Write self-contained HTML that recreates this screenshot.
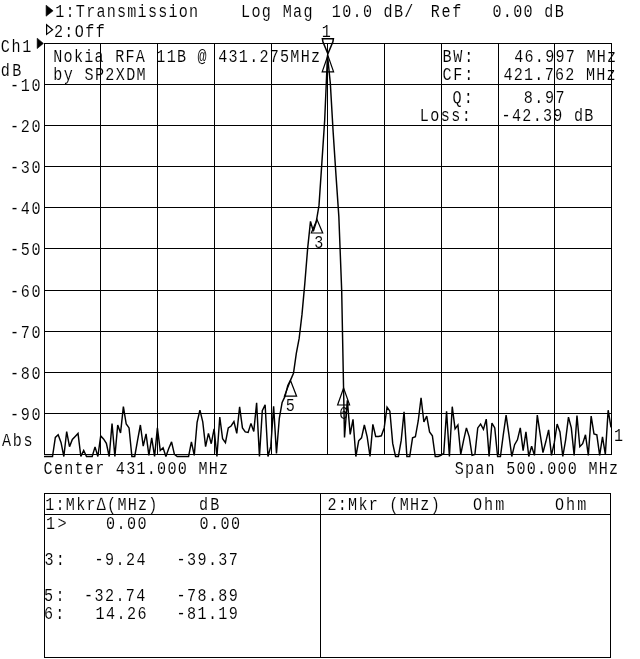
<!DOCTYPE html>
<html><head><meta charset="utf-8"><title>HP 8753 plot</title>
<style>
html,body{margin:0;padding:0;background:#fff;width:640px;height:659px;overflow:hidden}
svg{display:block}
text{font-family:"Liberation Mono","DejaVu Sans Mono",monospace;font-size:18px;fill:#000}
</style></head><body>

<svg width="640" height="659" viewBox="0 0 640 659">
<rect width="640" height="659" fill="#fff"/>
<text transform="translate(55.30 17.00) scale(0.840 1)" textLength="170.00" lengthAdjust="spacing" xml:space="preserve" stroke="#fff" stroke-width="0.10">1:Transmission</text>
<text transform="translate(241.10 17.00) scale(0.840 1)" textLength="85.00" lengthAdjust="spacing" xml:space="preserve" stroke="#fff" stroke-width="0.10">Log Mag</text>
<text transform="translate(331.80 17.00) scale(0.840 1)" textLength="97.14" lengthAdjust="spacing" xml:space="preserve" stroke="#fff" stroke-width="0.10">10.0 dB/</text>
<text transform="translate(430.70 17.00) scale(0.840 1)" textLength="36.43" lengthAdjust="spacing" xml:space="preserve" stroke="#fff" stroke-width="0.10">Ref</text>
<text transform="translate(492.40 17.00) scale(0.840 1)" textLength="85.00" lengthAdjust="spacing" xml:space="preserve" stroke="#fff" stroke-width="0.10">0.00 dB</text>
<text transform="translate(53.90 37.00) scale(0.840 1)" textLength="60.71" lengthAdjust="spacing" xml:space="preserve" stroke="#fff" stroke-width="0.10">2:Off</text>
<text transform="translate(0.80 52.00) scale(0.840 1)" textLength="36.43" lengthAdjust="spacing" xml:space="preserve" stroke="#fff" stroke-width="0.10">Ch1</text>
<text transform="translate(0.80 76.00) scale(0.840 1)" textLength="24.29" lengthAdjust="spacing" xml:space="preserve" stroke="#fff" stroke-width="0.10">dB</text>
<text transform="translate(10.00 91.00) scale(0.840 1)" textLength="36.43" lengthAdjust="spacing" xml:space="preserve" stroke="#fff" stroke-width="0.10">-10</text>
<text transform="translate(10.00 132.00) scale(0.840 1)" textLength="36.43" lengthAdjust="spacing" xml:space="preserve" stroke="#fff" stroke-width="0.10">-20</text>
<text transform="translate(10.00 173.00) scale(0.840 1)" textLength="36.43" lengthAdjust="spacing" xml:space="preserve" stroke="#fff" stroke-width="0.10">-30</text>
<text transform="translate(10.00 214.00) scale(0.840 1)" textLength="36.43" lengthAdjust="spacing" xml:space="preserve" stroke="#fff" stroke-width="0.10">-40</text>
<text transform="translate(10.00 255.00) scale(0.840 1)" textLength="36.43" lengthAdjust="spacing" xml:space="preserve" stroke="#fff" stroke-width="0.10">-50</text>
<text transform="translate(10.00 297.00) scale(0.840 1)" textLength="36.43" lengthAdjust="spacing" xml:space="preserve" stroke="#fff" stroke-width="0.10">-60</text>
<text transform="translate(10.00 338.00) scale(0.840 1)" textLength="36.43" lengthAdjust="spacing" xml:space="preserve" stroke="#fff" stroke-width="0.10">-70</text>
<text transform="translate(10.00 379.00) scale(0.840 1)" textLength="36.43" lengthAdjust="spacing" xml:space="preserve" stroke="#fff" stroke-width="0.10">-80</text>
<text transform="translate(10.00 420.00) scale(0.840 1)" textLength="36.43" lengthAdjust="spacing" xml:space="preserve" stroke="#fff" stroke-width="0.10">-90</text>
<text transform="translate(2.00 446.00) scale(0.840 1)" textLength="36.43" lengthAdjust="spacing" xml:space="preserve" stroke="#fff" stroke-width="0.10">Abs</text>
<text transform="translate(53.30 62.00) scale(0.840 1)" textLength="317.57" lengthAdjust="spacing" xml:space="preserve" stroke="#fff" stroke-width="0.10">Nokia RFA 11B @ 431.275MHz</text>
<text transform="translate(53.30 80.00) scale(0.840 1)" textLength="109.93" lengthAdjust="spacing" xml:space="preserve" stroke="#fff" stroke-width="0.10">by SP2XDM</text>
<text transform="translate(442.60 62.00) scale(0.840 1)" textLength="36.43" lengthAdjust="spacing" xml:space="preserve" stroke="#fff" stroke-width="0.10">BW:</text>
<text transform="translate(514.20 62.00) scale(0.840 1)" textLength="121.43" lengthAdjust="spacing" xml:space="preserve" stroke="#fff" stroke-width="0.10">46.997 MHz</text>
<text transform="translate(442.60 80.00) scale(0.840 1)" textLength="36.43" lengthAdjust="spacing" xml:space="preserve" stroke="#fff" stroke-width="0.10">CF:</text>
<text transform="translate(503.40 80.00) scale(0.840 1)" textLength="133.57" lengthAdjust="spacing" xml:space="preserve" stroke="#fff" stroke-width="0.10">421.762 MHz</text>
<text transform="translate(452.50 103.00) scale(0.840 1)" textLength="24.29" lengthAdjust="spacing" xml:space="preserve" stroke="#fff" stroke-width="0.10">Q:</text>
<text transform="translate(523.80 103.00) scale(0.840 1)" textLength="48.57" lengthAdjust="spacing" xml:space="preserve" stroke="#fff" stroke-width="0.10">8.97</text>
<text transform="translate(419.76 121.00) scale(0.840 1)" textLength="60.71" lengthAdjust="spacing" xml:space="preserve" stroke="#fff" stroke-width="0.10">Loss:</text>
<text transform="translate(501.62 121.00) scale(0.840 1)" textLength="109.29" lengthAdjust="spacing" xml:space="preserve" stroke="#fff" stroke-width="0.10">-42.39 dB</text>
<text transform="translate(321.80 37.00) scale(0.840 1)" textLength="12.14" lengthAdjust="spacing" xml:space="preserve" stroke="#fff" stroke-width="0.10">1</text>
<text transform="translate(314.30 248.00) scale(0.840 1)" textLength="12.14" lengthAdjust="spacing" xml:space="preserve" stroke="#fff" stroke-width="0.10">3</text>
<text transform="translate(285.72 411.00) scale(0.840 1)" textLength="12.14" lengthAdjust="spacing" xml:space="preserve" stroke="#fff" stroke-width="0.10">5</text>
<text transform="translate(338.90 419.00) scale(0.840 1)" textLength="12.14" lengthAdjust="spacing" xml:space="preserve" stroke="#fff" stroke-width="0.10">6</text>
<text transform="translate(613.90 441.00) scale(0.840 1)" textLength="12.14" lengthAdjust="spacing" xml:space="preserve" stroke="#fff" stroke-width="0.10">1</text>
<text transform="translate(43.60 474.00) scale(0.840 1)" textLength="219.64" lengthAdjust="spacing" xml:space="preserve" stroke="#fff" stroke-width="0.10">Center 431.000 MHz</text>
<text transform="translate(454.81 474.00) scale(0.840 1)" textLength="194.29" lengthAdjust="spacing" xml:space="preserve" stroke="#fff" stroke-width="0.10">Span 500.000 MHz</text>
<text transform="translate(45.20 510.00) scale(0.840 1)" textLength="133.57" lengthAdjust="spacing" xml:space="preserve" stroke="#fff" stroke-width="0.10">1:Mkr∆(MHz)</text>
<text transform="translate(199.00 510.00) scale(0.840 1)" textLength="24.29" lengthAdjust="spacing" xml:space="preserve" stroke="#fff" stroke-width="0.10">dB</text>
<text transform="translate(327.50 510.00) scale(0.840 1)" textLength="133.57" lengthAdjust="spacing" xml:space="preserve" stroke="#fff" stroke-width="0.10">2:Mkr (MHz)</text>
<text transform="translate(473.00 510.00) scale(0.840 1)" textLength="37.14" lengthAdjust="spacing" xml:space="preserve" stroke="#fff" stroke-width="0.10">Ohm</text>
<text transform="translate(555.00 510.00) scale(0.840 1)" textLength="37.14" lengthAdjust="spacing" xml:space="preserve" stroke="#fff" stroke-width="0.10">Ohm</text>
<text transform="translate(46.10 529.00) scale(0.840 1)" textLength="24.29" lengthAdjust="spacing" xml:space="preserve" stroke="#fff" stroke-width="0.10">1&gt;</text>
<text transform="translate(105.90 529.00) scale(0.840 1)" textLength="48.57" lengthAdjust="spacing" xml:space="preserve" stroke="#fff" stroke-width="0.10">0.00</text>
<text transform="translate(199.40 529.00) scale(0.840 1)" textLength="48.57" lengthAdjust="spacing" xml:space="preserve" stroke="#fff" stroke-width="0.10">0.00</text>
<text transform="translate(44.52 565.00) scale(0.840 1)" textLength="24.29" lengthAdjust="spacing" xml:space="preserve" stroke="#fff" stroke-width="0.10">3:</text>
<text transform="translate(94.52 565.00) scale(0.840 1)" textLength="60.71" lengthAdjust="spacing" xml:space="preserve" stroke="#fff" stroke-width="0.10">-9.24</text>
<text transform="translate(176.62 565.00) scale(0.840 1)" textLength="72.86" lengthAdjust="spacing" xml:space="preserve" stroke="#fff" stroke-width="0.10">-39.37</text>
<text transform="translate(44.12 601.00) scale(0.840 1)" textLength="24.29" lengthAdjust="spacing" xml:space="preserve" stroke="#fff" stroke-width="0.10">5:</text>
<text transform="translate(84.12 601.00) scale(0.840 1)" textLength="72.86" lengthAdjust="spacing" xml:space="preserve" stroke="#fff" stroke-width="0.10">-32.74</text>
<text transform="translate(176.62 601.00) scale(0.840 1)" textLength="72.86" lengthAdjust="spacing" xml:space="preserve" stroke="#fff" stroke-width="0.10">-78.89</text>
<text transform="translate(44.00 619.00) scale(0.840 1)" textLength="24.29" lengthAdjust="spacing" xml:space="preserve" stroke="#fff" stroke-width="0.10">6:</text>
<text transform="translate(95.50 619.00) scale(0.840 1)" textLength="60.71" lengthAdjust="spacing" xml:space="preserve" stroke="#fff" stroke-width="0.10">14.26</text>
<text transform="translate(176.62 619.00) scale(0.840 1)" textLength="72.86" lengthAdjust="spacing" xml:space="preserve" stroke="#fff" stroke-width="0.10">-81.19</text>
<g fill="#000"><rect x="44" y="43" width="1" height="412"/><rect x="100" y="43" width="1" height="412"/><rect x="157" y="43" width="1" height="412"/><rect x="214" y="43" width="1" height="412"/><rect x="271" y="43" width="1" height="412"/><rect x="327" y="43" width="1" height="412"/><rect x="384" y="43" width="1" height="412"/><rect x="441" y="43" width="1" height="412"/><rect x="498" y="43" width="1" height="412"/><rect x="554" y="43" width="1" height="412"/><rect x="611" y="43" width="1" height="412"/><rect x="44" y="43" width="568" height="1"/><rect x="44" y="84" width="568" height="1"/><rect x="44" y="125" width="568" height="1"/><rect x="44" y="166" width="568" height="1"/><rect x="44" y="207" width="568" height="1"/><rect x="44" y="248" width="568" height="1"/><rect x="44" y="290" width="568" height="1"/><rect x="44" y="331" width="568" height="1"/><rect x="44" y="372" width="568" height="1"/><rect x="44" y="413" width="568" height="1"/><rect x="44" y="454" width="568" height="1"/><rect x="44" y="493" width="567" height="1"/><rect x="44" y="514" width="567" height="1"/><rect x="44" y="657" width="567" height="1"/><rect x="44" y="493" width="1" height="165"/><rect x="610" y="493" width="1" height="165"/><rect x="320" y="493" width="1" height="165"/></g>
<polyline fill="none" stroke="#000" stroke-width="1.45" stroke-linejoin="miter" stroke-miterlimit="3" points="44.00,456.50 46.84,456.50 49.67,456.50 52.51,456.50 55.34,437.40 58.17,434.80 61.01,442.40 63.84,456.50 66.68,431.70 69.52,446.70 72.35,439.40 75.19,436.40 78.02,433.40 80.85,456.50 83.69,450.40 86.53,456.50 89.36,456.50 92.19,456.50 95.03,446.90 97.87,456.50 100.70,435.90 103.53,438.90 106.37,443.40 109.20,456.50 112.04,423.60 114.88,456.50 117.71,425.00 120.55,432.90 123.38,406.70 126.22,424.00 129.05,427.90 131.88,456.50 134.72,456.50 137.56,440.40 140.39,425.00 143.22,446.20 146.06,433.90 148.89,455.40 151.73,437.80 154.56,456.50 157.40,427.80 160.24,450.40 163.07,447.70 165.91,456.50 168.74,448.40 171.57,441.90 174.41,454.40 177.25,456.50 180.08,456.50 182.91,456.50 185.75,456.50 188.59,456.50 191.42,441.80 194.25,455.40 197.09,422.40 199.93,410.20 202.76,421.90 205.59,446.70 208.43,433.40 211.26,443.70 214.10,428.90 216.94,456.50 219.77,417.10 222.60,438.80 225.44,442.70 228.28,427.90 231.11,426.00 233.94,421.50 236.78,433.40 239.62,406.90 242.45,427.90 245.28,431.90 248.12,432.40 250.96,423.40 253.79,431.40 256.62,402.90 259.46,456.50 262.29,410.70 265.13,404.90 267.97,456.50 270.80,446.40 273.63,406.40 276.47,453.40 279.31,418.40 282.14,402.40 284.98,396.40 287.81,385.40 290.64,379.90 293.48,373.40 296.31,353.40 299.15,338.40 301.99,314.40 304.82,283.40 307.65,248.40 310.49,221.40 313.32,231.40 316.16,222.40 319.00,205.40 321.83,163.40 324.67,120.40 327.50,55.40 330.33,83.40 333.17,132.40 336.00,175.40 338.84,216.40 341.68,290.40 344.51,437.40 347.35,400.40 350.18,434.40 353.01,419.40 355.85,456.50 358.69,440.80 361.52,437.80 364.36,425.00 367.19,436.80 370.02,456.50 372.86,424.40 375.69,436.40 378.53,436.40 381.37,435.80 384.20,427.90 387.04,407.20 389.87,411.20 392.70,443.40 395.54,456.50 398.38,456.50 401.21,440.40 404.05,411.70 406.88,456.50 409.71,456.50 412.55,437.80 415.38,436.80 418.22,421.00 421.06,397.90 423.89,422.00 426.73,416.10 429.56,431.90 432.39,435.80 435.23,456.50 438.06,456.50 440.90,455.40 443.74,453.40 446.57,411.20 449.40,456.50 452.24,406.70 455.07,428.90 457.91,425.00 460.75,454.40 463.58,440.40 466.42,427.90 469.25,436.80 472.08,455.40 474.92,454.40 477.75,427.90 480.59,424.00 483.43,429.40 486.26,419.10 489.10,456.50 491.93,423.00 494.76,427.90 497.60,456.50 500.44,456.50 503.27,434.80 506.11,415.10 508.94,434.80 511.77,456.50 514.61,444.70 517.44,439.80 520.28,427.90 523.12,450.60 525.95,431.90 528.79,456.50 531.62,446.20 534.45,455.40 537.29,415.10 540.12,433.90 542.96,452.60 545.80,441.80 548.63,429.90 551.46,455.40 554.30,442.70 557.13,424.00 559.97,431.90 562.80,456.50 565.64,439.80 568.48,417.10 571.31,427.90 574.14,455.40 576.98,415.60 579.82,446.70 582.65,443.70 585.49,434.80 588.32,455.40 591.15,416.10 593.99,433.90 596.83,434.80 599.66,455.40 602.50,436.80 605.33,454.40 608.16,410.20 611.00,427.40"/>
<polygon points="46.1,5.2 53.1,10.8 46.1,16.2" fill="#000" stroke="#000" stroke-width="0.6"/><polygon points="46.6,24.8 52.6,29.8 46.6,34.4" fill="none" stroke="#000" stroke-width="1.2"/><polygon points="37.2,38.2 43.4,43.4 37.2,48.6" fill="#000" stroke="#000" stroke-width="0.6"/><polygon points="322.4,38.7 333.4,38.7 332.9,41.8 327.9,53.8 322.9,41.8" fill="none" stroke="#000" stroke-width="1.5"/><polygon points="327.9,55.5 322.2,71.8 333.6,71.8" fill="none" stroke="#000" stroke-width="1.2"/><polygon points="317.0,219.5 311.3,233.0 322.7,233.0" fill="none" stroke="#000" stroke-width="1.2"/><polygon points="290.5,380.5 284.4,396.2 296.6,396.2" fill="none" stroke="#000" stroke-width="1.2"/><polygon points="343.6,388.0 337.6,405.0 349.6,405.0" fill="none" stroke="#000" stroke-width="1.2"/>
</svg>
</body></html>
